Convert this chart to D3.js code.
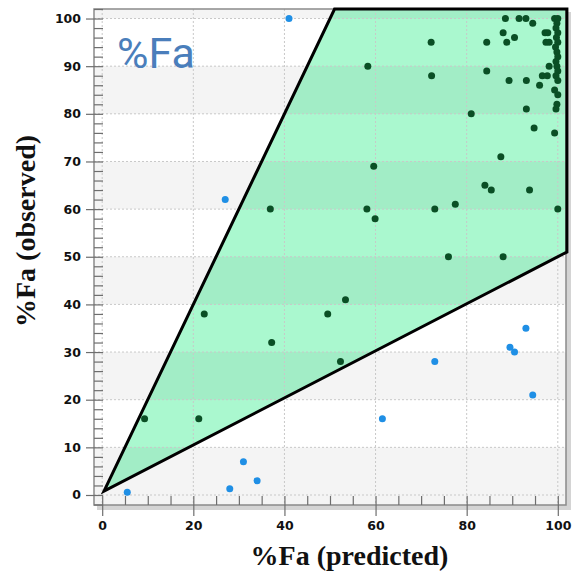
<!DOCTYPE html>
<html>
<head>
<meta charset="utf-8">
<script src="https://cdn.jsdelivr.net/npm/d3@7"></script>
<style>
  html, body { margin: 0; padding: 0; background: #fff; }
  svg { display: block; }
</style>
</head>
<body>
<div id="chart"></div>
<script>
// predicted vs observed %Fa
var insidePoints = [   // inside the 2-fold band (dark green)
    [9.3,16],[21.2,16],[22.4,38],[37.2,32],[49.5,38],[52.3,28],[53.4,41],
    [36.9,60],[58.1,60],[59.9,58],[59.6,69],[58.3,90],[72.2,95],[72.3,88],
    [73,60],[77.5,61],[76,50],[81,80],[87.5,71],[88,50],[84,65],[85.4,64],
    [93.8,64],[93.1,81],[94.8,77],[99.3,76],[100,60],[84.4,95],[84.4,89],
    [88.5,100],[91.5,100],[93,100],[94.5,99],[88,97],[90.5,96],[88.8,95],
    [89.3,87],[93.1,87],[96,86],[96.6,88],[97.7,88],[98.1,90],[97.2,97],
    [97.8,97],[97.4,95],[98.1,95],
    [99.3,100],[100,100],[99.8,99],[99.6,98],[100,97],[99.7,96],[100,95],
    [99.5,94],[99.8,93],[100,92],[99.6,91],[99.8,90],[100,89],[99.6,88],
    [100,87],[99.3,85],[100,84],[99.8,82],[99.6,81]
];
var outsidePoints = [  // outside the band (blue)
    [5.5,0.6],[28,1.3],[31,7],[34,3],[27,62],[41,100],[61.5,16],[73,28],
    [89.5,31],[90.5,30],[93,35],[94.5,21]
];
var bandPolygon = [[0.4,0.8],[51,102],[102,102],[102,51]];
var xTicks = [0, 20, 40, 60, 80, 100];
var yTicks = [0, 10, 20, 30, 40, 50, 60, 70, 80, 90, 100];
var xMinor = d3.range(0, 101, 5);
var yMinor = d3.range(-2, 103, 2);
var grayBands = [[-2.1,10],[20,30],[40,50],[60,70],[80,90],[100,102]];

var W = 572, H = 573;
var plot = {left: 94, right: 566, top: 9, bottom: 505};

var x = d3.scaleLinear().domain([-1.8, 101.8]).range([plot.left, plot.right]);
var y = d3.scaleLinear().domain([-2.1, 102]).range([plot.bottom, plot.top]);

var svg = d3.select("#chart").append("svg")
    .attr("width", W)
    .attr("height", H);

// frame shadow
svg.append("rect")
    .attr("x", plot.left + 3).attr("y", plot.top + 3)
    .attr("width", plot.right - plot.left + 2).attr("height", plot.bottom - plot.top + 2)
    .attr("fill", "#d4d4d4");

svg.append("rect")
    .attr("x", plot.left).attr("y", plot.top)
    .attr("width", plot.right - plot.left).attr("height", plot.bottom - plot.top)
    .attr("fill", "#fff");

// green 2-fold region
var line = d3.line()
    .x(function(d){ return x(d[0]); })
    .y(function(d){ return y(d[1]); })
    .curve(d3.curveLinearClosed);

svg.append("path")
    .datum(bandPolygon)
    .attr("d", line)
    .attr("fill", "#aaf8cf");

// alternating bands on top so they tint the green too
svg.selectAll("rect.band")
    .data(grayBands)
    .enter().append("rect")
    .attr("class", "band")
    .attr("x", plot.left)
    .attr("width", plot.right - plot.left)
    .attr("y", function(d){ return y(d[1]); })
    .attr("height", function(d){ return y(d[0]) - y(d[1]); })
    .attr("fill", "#000")
    .attr("fill-opacity", 0.045);

// dotted grid
svg.selectAll("line.vgrid")
    .data(xTicks)
    .enter().append("line")
    .attr("class", "vgrid")
    .attr("x1", function(d){ return x(d); }).attr("x2", function(d){ return x(d); })
    .attr("y1", plot.top).attr("y2", plot.bottom)
    .attr("stroke", "#c8c8c8").attr("stroke-width", 1)
    .attr("stroke-dasharray", "2,2");

svg.selectAll("line.hgrid")
    .data(yTicks)
    .enter().append("line")
    .attr("class", "hgrid")
    .attr("x1", plot.left).attr("x2", plot.right)
    .attr("y1", function(d){ return y(d); }).attr("y2", function(d){ return y(d); })
    .attr("stroke", "#c8c8c8").attr("stroke-width", 1)
    .attr("stroke-dasharray", "2,2");

// frame
svg.append("rect")
    .attr("x", plot.left).attr("y", plot.top)
    .attr("width", plot.right - plot.left).attr("height", plot.bottom - plot.top)
    .attr("fill", "none")
    .attr("stroke", "#8a8a8a")
    .attr("stroke-width", 1.5);

// polygon outline
svg.append("path")
    .datum(bandPolygon)
    .attr("d", line)
    .attr("fill", "none")
    .attr("stroke", "#000")
    .attr("stroke-width", 3)
    .attr("stroke-linejoin", "miter");

// axes
var tickFont = "'DejaVu Sans', sans-serif";

var yAxis = svg.append("g")
    .attr("transform", "translate(" + plot.left + ",0)")
    .call(d3.axisLeft(y).tickValues(yTicks).tickSize(8).tickPadding(5));
var yMinorAxis = svg.append("g")
    .attr("transform", "translate(" + plot.left + ",0)")
    .call(d3.axisRight(y).tickValues(yMinor).tickSize(9).tickFormat(""));

var xAxis = svg.append("g")
    .attr("transform", "translate(0," + plot.bottom + ")")
    .call(d3.axisBottom(x).tickValues(xTicks).tickSize(11).tickPadding(5));
var xMinorAxis = svg.append("g")
    .attr("transform", "translate(0," + plot.bottom + ")")
    .call(d3.axisTop(x).tickValues(xMinor).tickSize(9).tickFormat(""));

[yAxis, yMinorAxis, xAxis, xMinorAxis].forEach(function(g){
    g.select(".domain").remove();
    g.selectAll(".tick line").attr("stroke", "#6e6e6e").attr("stroke-width", 1.2);
    g.selectAll(".tick text")
        .attr("fill", "#111")
        .style("font-family", tickFont)
        .style("font-size", "12.5px")
        .style("font-weight", "bold");
});

// points
svg.selectAll("circle.inside")
    .data(insidePoints)
    .enter().append("circle")
    .attr("class", "inside")
    .attr("cx", function(d){ return x(d[0]); })
    .attr("cy", function(d){ return y(d[1]); })
    .attr("r", 3.5)
    .attr("fill", "#0a4f25");

svg.selectAll("circle.outside")
    .data(outsidePoints)
    .enter().append("circle")
    .attr("class", "outside")
    .attr("cx", function(d){ return x(d[0]); })
    .attr("cy", function(d){ return y(d[1]); })
    .attr("r", 3.5)
    .attr("fill", "#1f8fe5");

// title and axis labels
svg.append("text")
    .attr("x", 117).attr("y", 68)
    .style("font-family", "Roboto, sans-serif")
    .style("font-size", "43px")
    .attr("fill", "#4a7ebb")
    .text("%Fa");

svg.append("text")
    .attr("x", 349.5).attr("y", 565)
    .attr("text-anchor", "middle")
    .style("font-family", "'Liberation Serif', serif")
    .style("font-size", "28px")
    .style("font-weight", "bold")
    .attr("fill", "#111")
    .text("%Fa (predicted)");

svg.append("text")
    .attr("transform", "translate(35,231) rotate(-90)")
    .attr("text-anchor", "middle")
    .style("font-family", "'Liberation Serif', serif")
    .style("font-size", "28px")
    .style("font-weight", "bold")
    .attr("fill", "#111")
    .text("%Fa (observed)");
</script>
</body>
</html>
